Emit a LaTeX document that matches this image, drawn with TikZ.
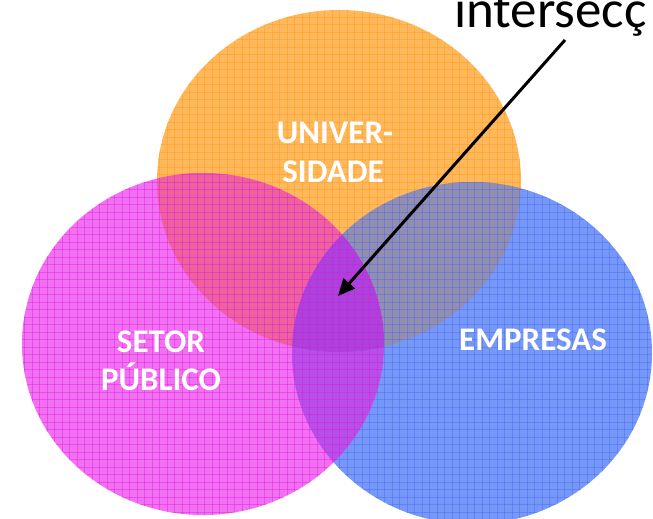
\documentclass[tikz,border=0pt]{standalone}
\usepackage{fontspec}
\setmainfont{Carlito}
\usetikzlibrary{arrows.meta}
\definecolor{corange}{RGB}{255,184,92}
\definecolor{cmag}{RGB}{242,112,242}
\definecolor{cblue}{RGB}{118,152,248}
\definecolor{cOM}{RGB}{238,96,158}
\definecolor{cOB}{RGB}{146,142,178}
\definecolor{cMB}{RGB}{182,80,232}
\definecolor{cOMB}{RGB}{172,66,220}
\definecolor{gorange}{RGB}{255,150,10}
\definecolor{gmag}{RGB}{222,20,222}
\definecolor{gblue}{RGB}{70,100,240}
\tikzset{
  lbl/.style={text=white,font=\bfseries\fontsize{33}{38}\selectfont,inner sep=0pt,anchor=base},
  title/.style={text=black,font=\fontsize{53}{56}\selectfont,inner sep=0pt,anchor=base west},
  pointer/.style={draw=black,line width=3pt,-{Triangle[length=17pt,width=15pt]}},
  mesh/.style={line width=0.6pt,draw opacity=0.4}
}
\newcommand{\ellO}{(339,181) ellipse [x radius=182pt, y radius=171pt]}
\newcommand{\ellM}{(203,344) ellipse [x radius=181pt, y radius=171pt]}
\newcommand{\ellB}{(472,353) ellipse [x radius=180pt, y radius=171pt]}
\newcommand{\meshlines}[1]{%
  \foreach \gx in {2,9.5,...,660} \draw[mesh,#1] (\gx,0) -- (\gx,525);
  \foreach \gy in {2,9.5,...,525} \draw[mesh,#1] (0,\gy) -- (660,\gy);}
\begin{document}
\begin{tikzpicture}[x=1pt,y=-1pt]
\useasboundingbox (0,0) rectangle (653,519);
\fill[white] (0,0) rectangle (653,519);
% orange circle (bottom layer)
\fill[corange] \ellO;
\begin{scope}\clip \ellO; \meshlines{gorange} \end{scope}
% blue circle
\fill[cblue] \ellB;
\begin{scope}\clip \ellO; \fill[cOB] \ellB; \end{scope}
\begin{scope}\clip \ellB; \meshlines{gblue} \end{scope}
% magenta circle (top layer)
\fill[cmag] \ellM;
\begin{scope}\clip \ellO; \fill[cOM] \ellM; \end{scope}
\begin{scope}\clip \ellB; \fill[cMB] \ellM; \end{scope}
\begin{scope}\clip \ellO; \clip \ellB; \fill[cOMB] \ellM; \end{scope}
\begin{scope}\clip \ellM; \meshlines{gmag} \end{scope}
% labels
\node[lbl] (uni1) at (335,143) {UNIVER-};
\node[lbl] (uni2) at (333,182) {SIDADE};
\node[lbl] (set1) at (161,352) {SETOR};
\node[lbl] (set2) at (161,390) {PÚBLICO};
\node[lbl] (emp) at (533,350) {EMPRESAS};
\node[title] (inter) at (454,28) {intersecç};
% pointer
\coordinate (pstart) at (565,40);
\coordinate (ptip) at (338,296);
\draw[pointer] (pstart) -- (ptip);
\end{tikzpicture}
\end{document}
